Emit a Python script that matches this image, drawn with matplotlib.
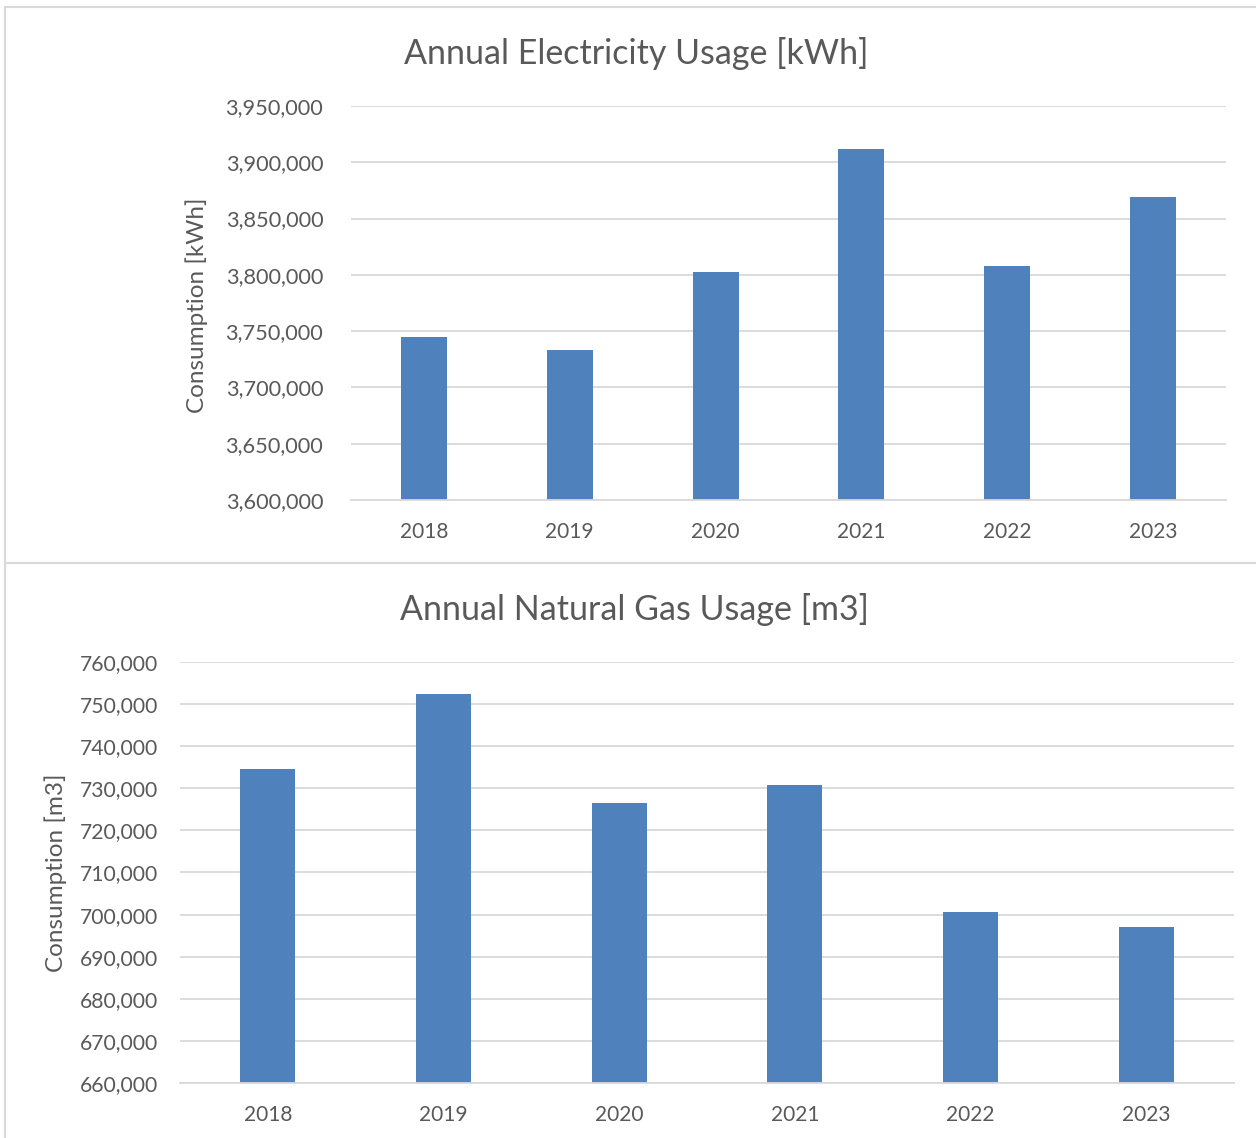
import matplotlib
matplotlib.use("Agg")
import matplotlib.pyplot as plt
from matplotlib.ticker import FuncFormatter, MultipleLocator
from matplotlib.patches import Rectangle

years = ["2018", "2019", "2020", "2021", "2022", "2023"]
electricity_kwh = [3745000, 3733000, 3802500, 3911700, 3808000, 3869000]
gas_m3 = [734600, 752400, 726500, 730800, 700600, 697100]

plt.rcParams['font.family'] = ['Lato', 'DejaVu Sans']
TEXT = '#595959'
GRID = '#d9d9d9'
BAR = '#4f81bd'

W, H = 1256, 1138
fig = plt.figure(figsize=(W / 100, H / 100), dpi=100)

def fx(px):
    return px / W

def fy(py):
    return 1 - py / H

# chart borders
fig.patches.append(Rectangle((fx(5), fy(563)), fx(1260) - fx(5), fy(7) - fy(563),
                             transform=fig.transFigure, fill=False, edgecolor='#d9d9d9', lw=1.5))
fig.patches.append(Rectangle((fx(5), fy(1145)), fx(1260) - fx(5), fy(563) - fy(1145),
                             transform=fig.transFigure, fill=False, edgecolor='#d9d9d9', lw=1.5))

fmt = FuncFormatter(lambda v, p: f"{int(round(v)):,}")

def style(ax, ymin, ymax, step, ypad, ysize):
    ax.set_ylim(ymin, ymax)
    ax.set_xlim(-0.5, len(years) - 0.5)
    ax.yaxis.set_major_locator(MultipleLocator(step))
    ax.yaxis.set_major_formatter(fmt)
    ax.grid(axis='y', color=GRID, lw=1.3)
    ax.set_axisbelow(True)
    for s in ['top', 'right', 'left']:
        ax.spines[s].set_visible(False)
    ax.spines['bottom'].set_color(GRID)
    ax.spines['bottom'].set_linewidth(1.3)
    ax.tick_params(axis='both', length=0, labelsize=15, colors=TEXT)
    ax.tick_params(axis='y', pad=ypad, labelsize=ysize)
    ax.tick_params(axis='x', pad=16)

# top chart
ax1 = fig.add_axes([fx(351), fy(500), fx(1226) - fx(351), fy(106) - fy(500)])
ax1.bar(range(len(years)), electricity_kwh, width=0.315, color=BAR)
ax1.set_xticks(range(len(years)))
ax1.set_xticklabels(years)
style(ax1, 3600000, 3950000, 50000, 20, 15.7)
fig.text(fx(636), fy(54), "Annual Electricity Usage [kWh]", ha='center', va='center',
         fontsize=24.5, color=TEXT)
fig.text(fx(197), fy(305), "Consumption [kWh]", ha='center', va='center',
         rotation=90, fontsize=17.5, color=TEXT)

# bottom chart
ax2 = fig.add_axes([fx(180), fy(1083), fx(1234) - fx(180), fy(662) - fy(1083)])
ax2.bar(range(len(years)), gas_m3, width=0.313, color=BAR)
ax2.set_xticks(range(len(years)))
ax2.set_xticklabels(years)
style(ax2, 660000, 760000, 10000, 16, 15.2)
fig.text(fx(635), fy(610), "Annual Natural Gas Usage [m3]", ha='center', va='center',
         fontsize=24.5, color=TEXT)
fig.text(fx(56), fy(873), "Consumption [m3]", ha='center', va='center',
         rotation=90, fontsize=17.5, color=TEXT)

fig.savefig("out.png", dpi=100, facecolor='white')
